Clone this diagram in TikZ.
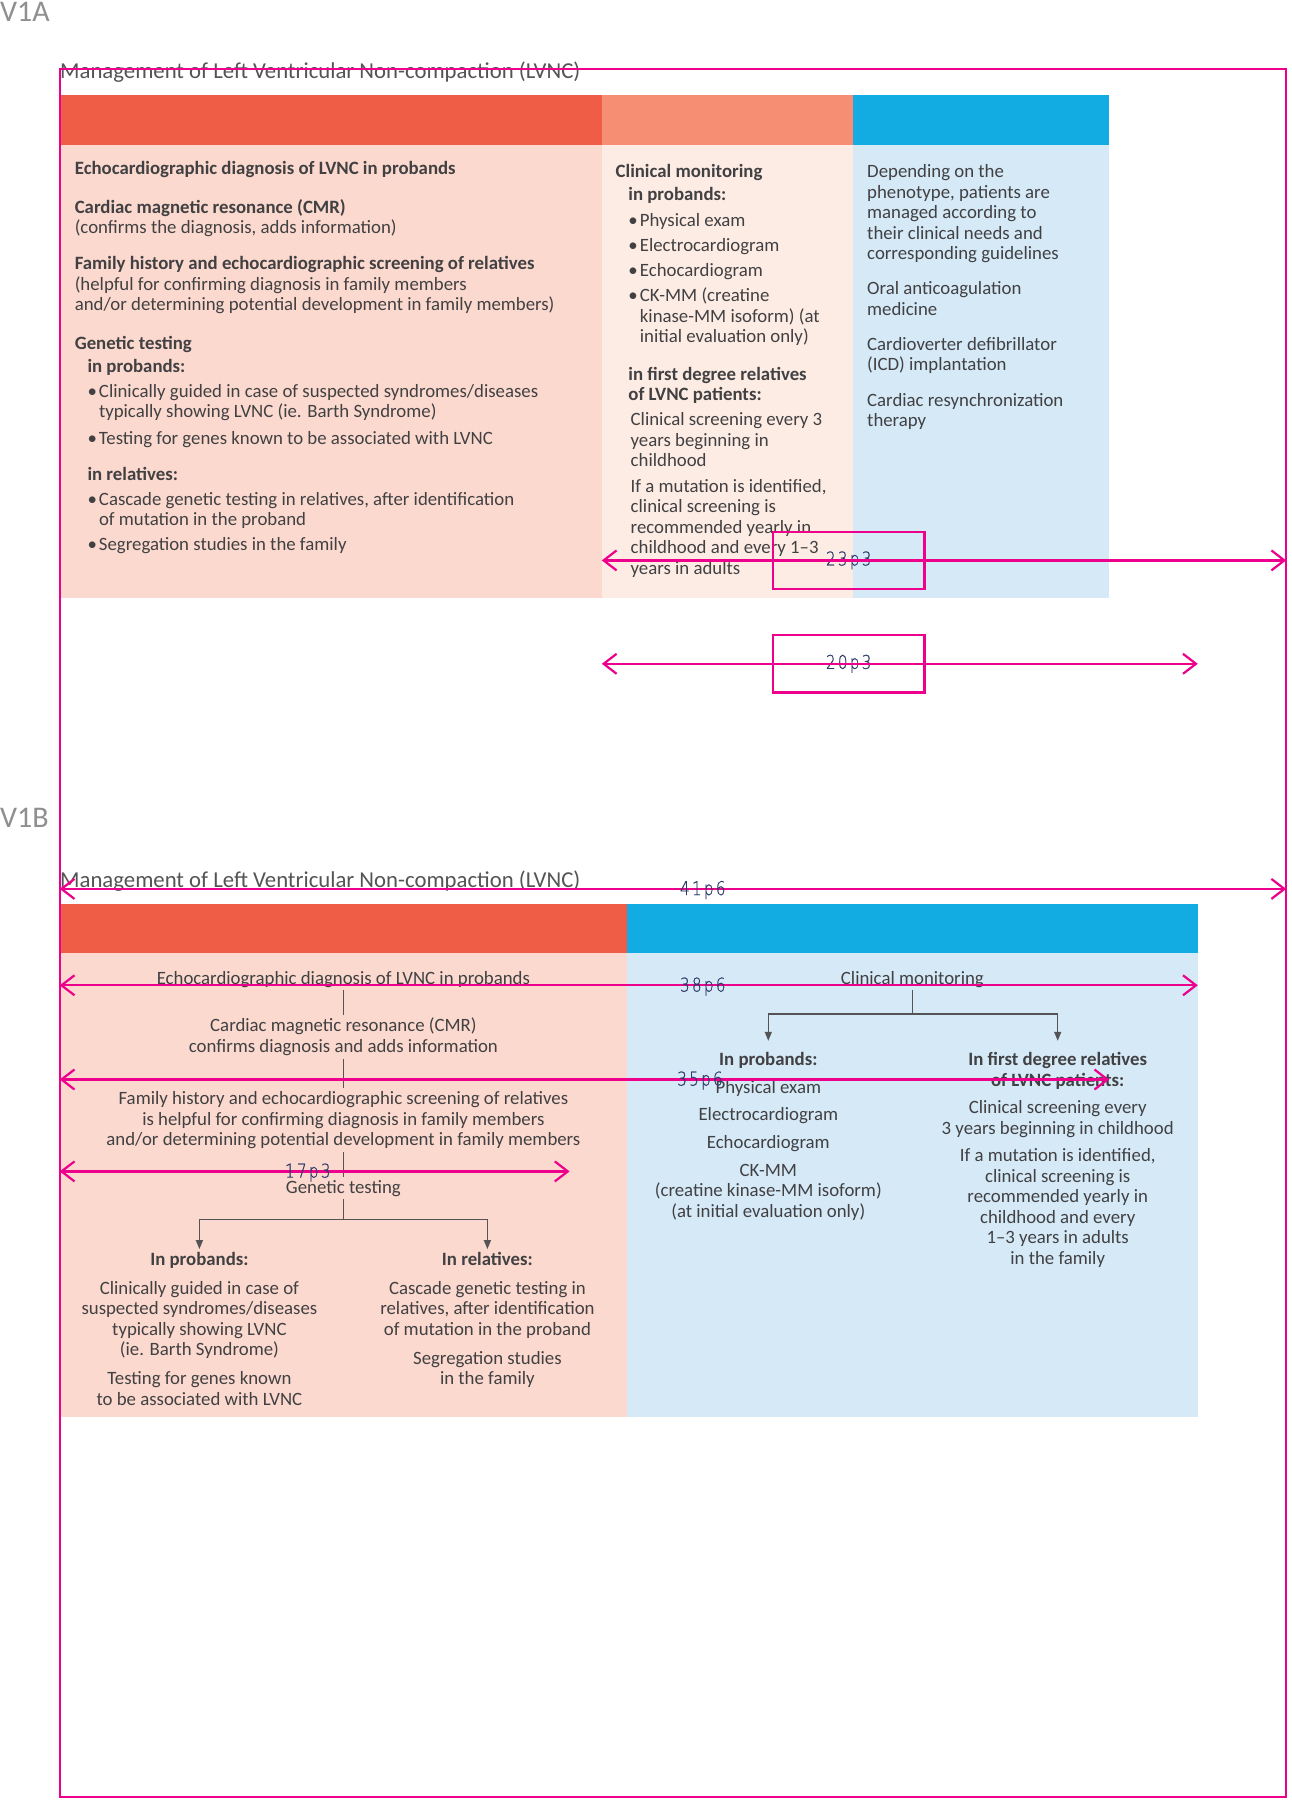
\documentclass[tikz,border=0pt]{standalone}
\usepackage{fontspec}
\setmainfont{Carlito}
\IfFontExistsTF{DejaVu Sans ExtraLight}
  {\newfontfamily\dimfont{DejaVu Sans ExtraLight}[FakeStretch=0.8, FakeBold=0.6, LetterSpace=12]}
  {\newfontfamily\dimfont{Carlito}[LetterSpace=25]}
\usetikzlibrary{arrows.meta,positioning}

\definecolor{hdred}{HTML}{EF5D47}
\definecolor{hdsalmon}{HTML}{F58E73}
\definecolor{hdblue}{HTML}{12ABE2}
\definecolor{bdpink}{HTML}{FBD9CE}
\definecolor{bdpale}{HTML}{FDECE4}
\definecolor{bdblue}{HTML}{D5E9F7}
\definecolor{guide}{HTML}{EC008C}
\definecolor{txt}{HTML}{414042}
\definecolor{dimtxt}{HTML}{2C3A68}
\definecolor{vlabel}{HTML}{8F8F8F}

\newcommand{\bodyfont}{\fontsize{18.8}{20.5}\selectfont}
\newcommand{\bul}{\makebox[11.5pt][l]{\textbullet}}
\newcommand{\ind}{\hspace*{11.5pt}}

\tikzset{
  txtbox/.style={inner sep=0pt, text=txt, font=\bodyfont, align=left, anchor=north west, yshift=-1.5pt},
  ctrbox/.style={inner xsep=0pt, inner ysep=3pt, text=txt, font=\bodyfont, align=center, anchor=north, yshift=-1.5pt},
  titlebox/.style={inner sep=0pt, anchor=west, text=txt!90, font=\fontsize{22.75}{25}\selectfont},
  versionbox/.style={inner sep=0pt, anchor=north west, text=vlabel, font=\fontsize{30}{30}\selectfont},
  guideline/.style={draw=guide, line width=2.2pt},
  dimarrow/.style={guide, line width=2.2pt, {Straight Barb[length=13pt,width=20pt]}-{Straight Barb[length=13pt,width=20pt]}},
  dimlabel/.style={inner sep=0pt, text=dimtxt, font={\dimfont\fontsize{19}{19}\selectfont}},
  flowline/.style={draw=txt!90, line width=1.3pt},
  flowarrow/.style={flowline, -{Triangle[length=9pt,width=7pt]}},
}

\begin{document}
\begin{tikzpicture}[x=1pt, y=-1pt]

\fill[white] (0,0) rectangle (1292,1800);
\useasboundingbox (0,0) rectangle (1292,1800);

% Version V1A
\node (va) [versionbox] at (0,2) {V1A};
\node (titlea) [titlebox] at (60,72) {Management of Left Ventricular Non-compaction (LVNC)};

\fill[hdred] (59.7,95.3) rectangle (601.8,144.7);
\fill[hdsalmon] (601.8,95.3) rectangle (853.3,144.7);
\fill[hdblue] (853.3,95.3) rectangle (1109.3,144.7);
\fill[bdpink] (59.7,144.7) rectangle (601.8,598.3);
\fill[bdpale] (601.8,144.7) rectangle (853.3,598.3);
\fill[bdblue] (853.3,144.7) rectangle (1109.3,598.3);

% Nodes, left column
\node (adiag) [txtbox] at (74.6,159.7) {{\bfseries Echocardiographic diagnosis of LVNC in probands}};
\node (acmr) [txtbox] at (74.6,197.6) {{\bfseries Cardiac magnetic resonance (CMR)}\\(confirms the diagnosis, adds information)};
\node (afam) [txtbox] at (74.6,255) {{\bfseries Family history and echocardiographic screening of relatives}\\(helpful for confirming diagnosis in family members\\and/or determining potential development in family members)};
\node (agen) [txtbox] at (74.6,334.2) {{\bfseries Genetic testing}};
\node (agenprob) [txtbox] at (87.3,357.2) {{\bfseries in probands:}};
\node (agenproblist) [txtbox] at (87.3,382.5) {\bul Clinically guided in case of suspected syndromes/diseases\\\ind typically showing LVNC (ie. Barth Syndrome)\\[6pt]\bul Testing for genes known to be associated with LVNC};
\node (agenrel) [txtbox] at (87.3,465.1) {{\bfseries in relatives:}};
\node (agenrellist) [txtbox] at (87.3,490.4) {\bul Cascade genetic testing in relatives, after identification\\\ind of mutation in the proband\\[4.7pt]\bul Segregation studies in the family};

% Nodes, middle column
\node (amon) [txtbox] at (615.5,163.1) {{\bfseries Clinical monitoring}};
\node (amonprob) [txtbox] at (628.2,186.1) {{\bfseries in probands:}};
\node (amonproblist) [txtbox] at (628.2,211.3) {\bul Physical exam\\[4.8pt]\bul Electrocardiogram\\[4.8pt]\bul Echocardiogram\\[4.8pt]\bul CK-MM (creatine\\\ind kinase-MM isoform) (at\\\ind initial evaluation only)};
\node (amonrel) [txtbox] at (628.2,365.2) {{\bfseries in first degree relatives}\\{\bfseries of LVNC patients:}};
\node (amonrellist) [txtbox] at (630.5,411.2) {Clinical screening every 3\\years beginning in\\childhood\\[4.8pt]If a mutation is identified,\\clinical screening is\\recommended yearly in\\childhood and every 1–3\\years in adults};

% Nodes, right column
\node (apheno) [txtbox] at (867,163.1) {Depending on the\\phenotype, patients are\\managed according to\\their clinical needs and\\corresponding guidelines};
\node (aoral) [txtbox] at (867,280.2) {Oral anticoagulation\\medicine};
\node (aicd) [txtbox] at (867,335.4) {Cardioverter defibrillator\\(ICD) implantation};
\node (acrt) [txtbox] at (867,391.6) {Cardiac resynchronization\\therapy};

% Version V1B
\node (vb) [versionbox] at (0,807.5) {V1B};
\node (titleb) [titlebox] at (60,880.8) {Management of Left Ventricular Non-compaction (LVNC)};

\fill[hdred] (59.7,903.8) rectangle (627,953.2);
\fill[hdblue] (627,903.8) rectangle (1197.8,953.2);
\fill[bdpink] (59.7,953.2) rectangle (627,1417.1);
\fill[bdblue] (627,953.2) rectangle (1197.8,1417.1);

% Nodes, left block
\node (bdiag) [ctrbox] at (343.4,966.3) {Echocardiographic diagnosis of LVNC in probands};
\node (bcmr) [ctrbox] at (343.4,1013.4) {Cardiac magnetic resonance (CMR)\\confirms diagnosis and adds information};
\node (bfam) [ctrbox] at (343.4,1086.9) {Family history and echocardiographic screening of relatives\\is helpful for confirming diagnosis in family members\\and/or determining potential development in family members};
\node (bgen) [ctrbox] at (343.4,1175.3) {Genetic testing};
\coordinate (bgenfork) at (343.4,1219.6);
\node (bgenprob) [ctrbox] at (199.4,1247.6) {{\bfseries In probands:}\\[8.3pt]Clinically guided in case of\\suspected syndromes/diseases\\typically showing LVNC\\(ie. Barth Syndrome)\\[8.3pt]Testing for genes known\\to be associated with LVNC};
\node (bgenrel) [ctrbox] at (487.4,1247.6) {{\bfseries In relatives:}\\[8.3pt]Cascade genetic testing in\\relatives, after identification\\of mutation in the proband\\[8.3pt]Segregation studies\\in the family};

% Nodes, right block
\node (bmon) [ctrbox] at (912.4,966.3) {Clinical monitoring};
\coordinate (bmonfork) at (912.4,1014);
\node (bmonprob) [ctrbox] at (768.3,1047.8) {{\bfseries In probands:}\\[7.1pt]Physical exam\\[7.1pt]Electrocardiogram\\[7.1pt]Echocardiogram\\[7.1pt]CK-MM\\(creatine kinase-MM isoform)\\(at initial evaluation only)};
\node (bmonrel) [ctrbox] at (1057.7,1047.8) {{\bfseries In first degree relatives}\\{\bfseries of LVNC patients:}\\[7.1pt]Clinical screening every\\3 years beginning in childhood\\[7.1pt]If a mutation is identified,\\clinical screening is\\recommended yearly in\\childhood and every\\1–3 years in adults\\in the family};

% Arrows
\draw [flowline] (bdiag) -- (bcmr);
\draw [flowline] (bcmr) -- (bfam);
\draw [flowline] (bfam) -- (bgen);
\draw [flowline] (bgen) -- (bgenfork);
\draw [flowarrow] (bgenfork) -| (bgenprob.north);
\draw [flowarrow] (bgenfork) -| (bgenrel.north);
\draw [flowline] (bmon) -- (bmonfork);
\draw [flowarrow, shorten >=8.5pt] (bmonfork) -| (bmonprob.north);
\draw [flowarrow, shorten >=8.5pt] (bmonfork) -| (bmonrel.north);

% Guides
\draw [guideline] (59.7,68.9) rectangle (1286.2,1797);

\coordinate (g23l) at (601.8,560.4);
\coordinate (g23r) at (1286.2,560.4);
\node (g23) [dimlabel, draw=guide, line width=2.2pt, minimum width=151.6pt, minimum height=57.4pt] at (848.7,560.4) {23p3};
\draw [dimarrow] (g23l) -- (g23r);

\coordinate (g20l) at (601.8,663.8);
\coordinate (g20r) at (1197.8,663.8);
\node (g20) [dimlabel, draw=guide, line width=2.2pt, minimum width=151.6pt, minimum height=57.4pt] at (848.7,663.8) {20p3};
\draw [dimarrow] (g20l) -- (g20r);

\coordinate (g41l) at (59.7,888.9);
\coordinate (g41r) at (1286.2,888.9);
\draw [dimarrow] (g41l) -- (g41r);
\node (g41) [dimlabel] at (702.8,890) {41p6};

\coordinate (g38l) at (59.7,985.3);
\coordinate (g38r) at (1197.8,985.3);
\draw [dimarrow] (g38l) -- (g38r);
\node (g38) [dimlabel] at (702.8,986.5) {38p6};

\coordinate (g35l) at (59.7,1079.5);
\coordinate (g35r) at (1109.3,1079.5);
\draw [dimarrow] (g35l) -- (g35r);
\node (g35) [dimlabel] at (700,1080.5) {35p6};

\coordinate (g17l) at (59.7,1171.4);
\coordinate (g17r) at (569.6,1171.4);
\draw [dimarrow] (g17l) -- (g17r);
\node (g17) [dimlabel] at (307.8,1172.5) {17p3};

\end{tikzpicture}
\end{document}
